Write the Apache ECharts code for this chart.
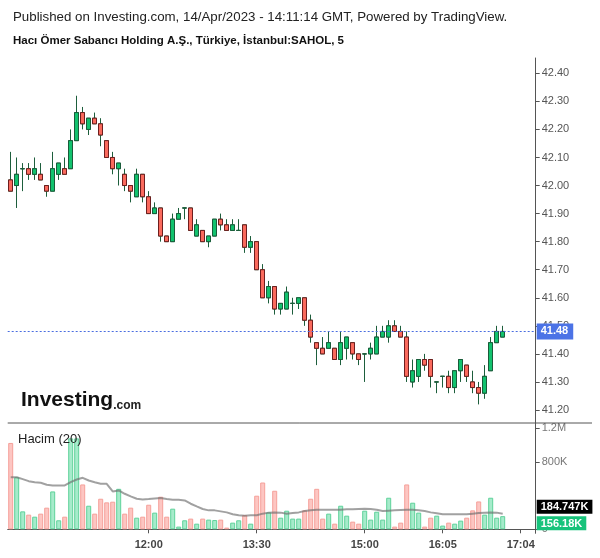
<!DOCTYPE html>
<html><head><meta charset="utf-8">
<script src="https://cdn.jsdelivr.net/npm/echarts@6/dist/echarts.min.js"></script>
<style>html,body{margin:0;padding:0;background:#fff}#c{width:600px;height:558px}</style>
</head><body><div id="c"></div>
<script>
const categories = ['10:05','10:10','10:15','10:20','10:25','10:30','10:35','10:40','10:45','10:50','10:55',
'11:00','11:05','11:10','11:15','11:20','11:25','11:30','11:35','11:40','11:45','11:50','11:55',
'12:00','12:05','12:10','12:15','12:20','12:25','12:30','12:35','12:40','12:45','12:50','12:55',
'13:00','13:05','13:10','13:15','13:20','13:25','13:30','13:35','13:40','13:45','13:50','13:55',
'14:00','14:05','14:10','14:15','14:20','14:25','14:30','14:35','14:40','14:45','14:50','14:55',
'15:00','15:05','15:10','15:15','15:20','15:25','15:30','15:35','15:40','15:45','15:50','15:55',
'16:00','16:05','16:10','16:15','16:20','16:25','16:30','16:35','16:40','16:45','16:50','16:55',
'17:00','17:05','17:10','17:15','17:20'];
const opens  = [42.02,42.00,42.06,42.06,42.04,42.04,42.00,41.98,42.04,42.06,42.06,42.16,42.26,42.20,42.24,42.22,42.16,42.10,42.06,42.04,42.00,41.96,42.04,41.96,41.90,41.92,41.82,41.80,41.88,41.92,41.92,41.82,41.84,41.80,41.82,41.88,41.86,41.84,41.84,41.86,41.78,41.80,41.70,41.60,41.64,41.56,41.56,41.58,41.58,41.60,41.52,41.44,41.42,41.42,41.42,41.38,41.42,41.44,41.40,41.40,41.40,41.40,41.46,41.46,41.50,41.48,41.46,41.30,41.32,41.38,41.38,41.30,41.32,41.32,41.28,41.34,41.36,41.30,41.28,41.26,41.34,41.44,41.46];
const closes = [41.98,42.04,42.06,42.04,42.06,42.02,41.98,42.06,42.08,42.04,42.16,42.26,42.22,42.24,42.22,42.18,42.10,42.06,42.08,42.00,41.98,42.04,41.96,41.90,41.92,41.82,41.80,41.88,41.90,41.92,41.84,41.86,41.80,41.82,41.88,41.86,41.84,41.86,41.84,41.78,41.80,41.70,41.60,41.64,41.56,41.58,41.62,41.58,41.60,41.52,41.46,41.42,41.40,41.44,41.38,41.44,41.46,41.40,41.38,41.40,41.42,41.46,41.48,41.50,41.48,41.46,41.32,41.34,41.38,41.36,41.32,41.30,41.32,41.28,41.34,41.38,41.32,41.28,41.26,41.32,41.44,41.48,41.48];
const highs  = [42.12,42.10,42.08,42.08,42.10,42.08,42.00,42.12,42.08,42.10,42.20,42.32,42.28,42.24,42.26,42.24,42.16,42.12,42.08,42.06,42.00,42.06,42.04,41.98,41.94,41.92,41.82,41.90,41.92,41.92,41.92,41.88,41.84,41.82,41.88,41.90,41.88,41.88,41.88,41.86,41.82,41.80,41.72,41.66,41.64,41.58,41.64,41.60,41.60,41.60,41.54,41.44,41.46,41.48,41.42,41.48,41.46,41.44,41.40,41.40,41.44,41.50,41.50,41.52,41.52,41.50,41.48,41.38,41.38,41.40,41.38,41.30,41.32,41.34,41.34,41.38,41.36,41.34,41.30,41.36,41.46,41.50,41.50];
const lows   = [41.98,41.92,41.98,42.02,42.02,42.02,41.96,41.98,42.02,42.04,42.06,42.16,42.20,42.18,42.22,42.14,42.10,42.04,42.00,41.98,41.94,41.96,41.94,41.90,41.90,41.80,41.80,41.80,41.88,41.88,41.84,41.82,41.80,41.78,41.82,41.84,41.84,41.84,41.84,41.76,41.76,41.70,41.60,41.58,41.54,41.54,41.56,41.54,41.56,41.50,41.44,41.36,41.40,41.42,41.38,41.36,41.38,41.38,41.36,41.30,41.38,41.40,41.46,41.44,41.48,41.46,41.30,41.28,41.30,41.34,41.28,41.26,41.28,41.26,41.26,41.30,41.30,41.26,41.22,41.24,41.34,41.44,41.46];
// volume in thousands
const volumesK = [1026,619,213,174,150,186,257,450,107,150,1080,1080,533,280,186,363,320,328,481,186,257,138,150,292,198,387,150,245,32,107,127,67,127,115,110,115,20,79,107,169,67,399,556,201,458,138,221,127,127,225,363,481,127,186,67,280,162,91,67,221,115,209,115,375,32,79,533,316,198,32,138,162,44,79,67,103,138,225,331,174,375,138,156.18];
// 20-period volume moving average, in thousands
const volumeMAK = [619,619,596,572,560,553,529,521,521,521,560,592,612,580,560,541,541,450,462,422,391,363,355,359,367,371,359,351,351,343,304,272,241,225,225,213,201,178,166,162,166,166,186,198,201,198,186,194,201,217,225,233,233,233,233,233,237,237,241,245,241,233,217,221,225,229,233,233,225,217,201,190,178,178,178,178,178,186,194,198,201,198,184.747];
const priceTicks = [41.2,41.3,41.4,41.5,41.6,41.7,41.8,41.9,42.0,42.1,42.2,42.3,42.4];
const volumeTicks = [0,800000,1200000];
const xTickAt   = ['12:00','13:30','15:00','16:05','17:10'];
const xTickText = ['12:00','13:30','15:00','16:05','17:04'];

const FONT = '"Liberation Sans", Arial, Helvetica, sans-serif';
const GRID_LEFT = 7.7, GRID_RIGHT = 64.3;
const UP = '#12c26e', UP_B = '#1a5c3a', DN = '#fa6a5d', DN_B = '#6e1e1e', WICK = '#1d5e3c';

const isUp = closes.map((c, i) => c >= opens[i]);
const fullOHLC = opens.map((o, i) => [o, closes[i], lows[i], highs[i]]);
const bodyOHLC = opens.map((o, i) => [o, closes[i], Math.min(o, closes[i]), Math.max(o, closes[i])]);
const volData = volumesK.map((v, i) => ({
  value: v * 1000,
  itemStyle: isUp[i] ? {color: '#a6ebcb', borderColor: '#5fd29b'} : {color: '#fdc6c2', borderColor: '#f5a09a'}
}));
const maData = volumeMAK.map(v => v * 1000);
const lastClose = closes[closes.length - 1];
const lastVol = volData[volData.length - 1].value;
const lastMA = maData[maData.length - 1];
const fmtVol = v => v === 0 ? '0' : (v >= 1e6 ? (v / 1e6) + 'M' : (Math.round(v) / 1000) + 'K');

const chart = echarts.init(document.getElementById('c'));
chart.setOption({
  animation: false,
  backgroundColor: '#fff',
  textStyle: {fontFamily: FONT},
  title: [
    {text: 'Published on Investing.com, 14/Apr/2023 - 14:11:14 GMT, Powered by TradingView.', left: 13, top: 11, padding: 0,
     textStyle: {fontSize: 13.3, fontWeight: 'normal', color: '#222', fontFamily: FONT}},
    {text: 'Hacı Ömer Sabancı Holding A.Ş., Türkiye, İstanbul:SAHOL, 5', left: 13, top: 35, padding: 0,
     textStyle: {fontSize: 11.5, fontWeight: 'bold', color: '#111', fontFamily: FONT}},
    {text: 'Hacim (20)', left: 18, top: 433, padding: 0, textStyle: {fontSize: 13, fontWeight: 'normal', color: '#222', fontFamily: FONT}},
    {text: '{a|Investing}{b|.com}', left: 21, top: 388, padding: 0,
     textStyle: {rich: {
       a: {fontSize: 21, fontWeight: 'bold', color: '#111', fontFamily: FONT, lineHeight: 24},
       b: {fontSize: 12, color: '#222', fontFamily: FONT, verticalAlign: 'bottom', lineHeight: 24}
     }}}
  ],
  graphic: [
    {type: 'line', shape: {x1: GRID_LEFT, y1: 423, x2: 592, y2: 423}, style: {stroke: '#555', lineWidth: 1}, z: 10}
  ],
  grid: [
    {left: GRID_LEFT, right: GRID_RIGHT, top: 58, height: 365},
    {left: GRID_LEFT, right: GRID_RIGHT, top: 423, height: 110.3}
  ],
  xAxis: [
    {type: 'category', gridIndex: 0, data: categories, boundaryGap: true,
     axisLine: {show: false}, axisTick: {show: false}, axisLabel: {show: false}, splitLine: {show: false}},
    {type: 'category', gridIndex: 1, data: categories, boundaryGap: true,
     axisLine: {show: true, lineStyle: {color: '#555', width: 1}},
     axisTick: {show: true, alignWithLabel: true, length: 4, interval: (i, v) => xTickAt.includes(v), lineStyle: {color: '#555'}},
     axisLabel: {interval: (i, v) => xTickAt.includes(v), formatter: v => xTickText[xTickAt.indexOf(v)],
                 color: '#444', fontSize: 11, fontWeight: 'bold', margin: 6, fontFamily: FONT},
     splitLine: {show: false}}
  ],
  yAxis: [
    {type: 'value', gridIndex: 0, position: 'right', min: 41.1537, max: 42.4545,
     axisLine: {show: true, lineStyle: {color: '#555'}},
     axisTick: {show: true, length: 4, customValues: priceTicks, lineStyle: {color: '#555'}},
     axisLabel: {customValues: priceTicks, formatter: v => v.toFixed(2), color: '#555', fontSize: 11, margin: 6, fontFamily: FONT},
     splitLine: {show: false}},
    {type: 'value', gridIndex: 1, position: 'right', min: -47500, max: 1262900,
     axisLine: {show: true, lineStyle: {color: '#555'}},
     axisTick: {show: true, length: 4, customValues: volumeTicks, lineStyle: {color: '#555'}},
     axisLabel: {customValues: volumeTicks, formatter: fmtVol, color: '#777', fontSize: 11, margin: 6, fontFamily: FONT},
     splitLine: {show: false}}
  ],
  series: [
    {name: 'wick', type: 'candlestick', xAxisIndex: 0, yAxisIndex: 0, data: fullOHLC, barWidth: 4,
     itemStyle: {color: 'transparent', color0: 'transparent', borderColor: WICK, borderColor0: WICK, borderColorDoji: WICK, borderWidth: 1}},
    {name: 'SAHOL', type: 'candlestick', xAxisIndex: 0, yAxisIndex: 0, data: bodyOHLC, barWidth: 4,
     itemStyle: {color: UP, color0: DN, borderColor: UP_B, borderColor0: DN_B, borderColorDoji: WICK, borderWidth: 1},
     markLine: {symbol: ['none', 'none'], silent: true, animation: false,
       lineStyle: {color: '#4a6ee0', type: [2, 2], width: 1},
       label: {position: 'end', distance: 1, formatter: p => Number(p.value).toFixed(2), backgroundColor: '#4c73e6',
               color: '#fff', padding: [3, 5, 2, 4], fontSize: 11, fontWeight: 'bold', fontFamily: FONT},
       data: [{yAxis: lastClose}]}},
    {name: 'Hacim', type: 'bar', xAxisIndex: 1, yAxisIndex: 1, data: volData, barWidth: 5,
     itemStyle: {borderWidth: 1},
     markLine: {symbol: ['none', 'none'], silent: true, animation: false, lineStyle: {color: 'rgba(0,0,0,0)', width: 1},
       label: {show: true, position: 'end', distance: 1, formatter: p => '{g|}\n{v|' + fmtVol(p.value) + '}',
         rich: {g: {height: 14, lineHeight: 14},
                v: {backgroundColor: '#17c37b', color: '#fff', fontWeight: 'bold', fontSize: 11, padding: [2, 4, 1, 4], fontFamily: FONT}}},
       data: [{yAxis: lastVol}]}},
    {name: 'MA', type: 'line', xAxisIndex: 1, yAxisIndex: 1, data: maData, symbol: 'none', smooth: false, z: 3,
     lineStyle: {color: 'rgba(110,110,110,0.65)', width: 2},
     markLine: {symbol: ['none', 'none'], silent: true, animation: false, lineStyle: {color: 'rgba(0,0,0,0)', width: 1},
       label: {show: true, position: 'end', distance: 1, formatter: p => '{v|' + fmtVol(p.value) + '}\n{g|}',
         rich: {g: {height: 14, lineHeight: 14},
                v: {backgroundColor: '#000', color: '#fff', fontWeight: 'bold', fontSize: 11, padding: [2, 4, 1, 4], fontFamily: FONT}}},
       data: [{yAxis: lastMA}]}}
  ]
});
</script></body></html>
